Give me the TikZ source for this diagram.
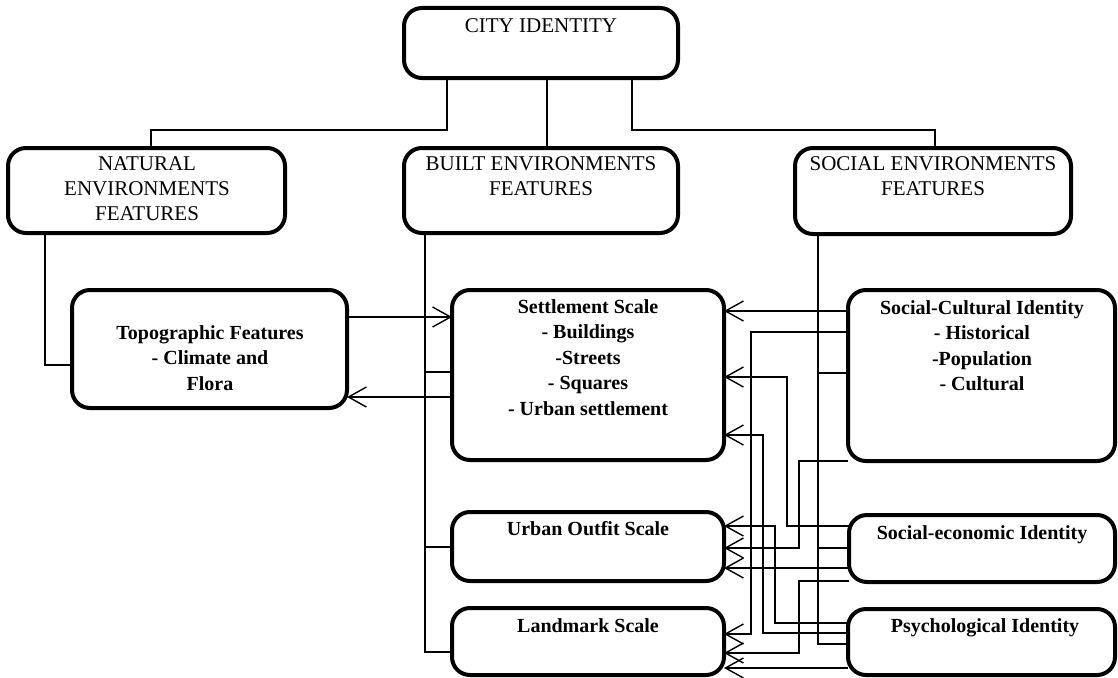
\documentclass[tikz,border=0pt]{standalone}
\usepackage{fontspec}
\setmainfont{Liberation Serif}
\usetikzlibrary{arrows.meta}
\begin{document}
\begin{tikzpicture}[x=1pt,y=-1pt,
  box/.style={draw, line width=4pt, rounded corners=18pt, inner sep=0pt, outer sep=0pt, anchor=north west},
  head/.style={font=\fontsize{21}{25}\selectfont, align=center, anchor=north, inner sep=0pt},
  sub/.style={font=\bfseries\fontsize{20}{25.5}\selectfont, align=center, anchor=north, inner sep=0pt},
  conn/.style={line width=1.4pt},
  arr/.style={conn, -{Straight Barb[length=18pt,width=20pt,line width=1.4pt]}}
]
\useasboundingbox (0,0) rectangle (1118,677);
\fill[white] (0,0) rectangle (1118,677);

% boxes
\node[box, minimum width=274pt, minimum height=70pt]  (city)     at (404,8)   {};
\node[box, minimum width=277pt, minimum height=85pt]  (natural)  at (8,148)   {};
\node[box, minimum width=274pt, minimum height=85pt]  (built)    at (404,148) {};
\node[box, minimum width=276pt, minimum height=86pt]  (social)   at (795,148) {};
\node[box, minimum width=275pt, minimum height=118pt] (topo)     at (72,290)  {};
\node[box, minimum width=272pt, minimum height=170pt] (settle)   at (452,290) {};
\node[box, minimum width=272pt, minimum height=69pt]  (urban)    at (452,512) {};
\node[box, minimum width=272pt, minimum height=67pt]  (landmark) at (452,608) {};
\node[box, minimum width=267pt, minimum height=171pt] (socul)    at (848,290) {};
\node[box, minimum width=266pt, minimum height=67pt]  (soceco)   at (849,515) {};
\node[box, minimum width=267pt, minimum height=66pt]  (psych)    at (848,609) {};

% texts
\node[head] (cityT)    at (541,18)  {CITY IDENTITY};
\node[head] (naturalT) at (147,156) {NATURAL\\ENVIRONMENTS\\FEATURES};
\node[head] (builtT)   at (541,156) {BUILT ENVIRONMENTS\\FEATURES};
\node[head] (socialT)  at (933,156) {SOCIAL ENVIRONMENTS\\FEATURES};
\node[sub]  (topoT)    at (210,325) {Topographic Features\\- Climate and\\Flora};
\node[sub]  (settleT)  at (588,299) {Settlement Scale\\- Buildings\\-Streets\\- Squares\\- Urban settlement};
\node[sub]  (urbanT)   at (588,521) {Urban Outfit Scale};
\node[sub]  (landT)    at (588,618) {Landmark Scale};
\node[sub]  (soculT)   at (982,300) {Social-Cultural Identity\\- Historical\\-Population\\- Cultural};
\node[sub]  (socecoT)  at (982,525) {Social-economic Identity};
\node[sub]  (psychT)   at (985,618) {Psychological Identity};

% junction coordinates
\coordinate (bj1) at (425,372);
\coordinate (bj2) at (425,547);
\coordinate (sj1) at (818,373);
\coordinate (sj2) at (818,548);

% top tree
\draw[conn] (city.south -| 447,0) |- (151,130) -- (natural.north -| 151,0);
\draw[conn] (city.south -| 547,0) -- (built.north -| 547,0);
\draw[conn] (city.south -| 632,0) |- (935,130) -- (social.north -| 935,0);

% natural
\draw[conn] (natural.south -| 45,0) |- (topo.west |- 0,365);
\draw[arr] (topo.east |- 0,317) -- (settle.west |- 0,317);
\draw[arr] (settle.west |- 0,397) -- (topo.east |- 0,397);

% built
\draw[conn] (built.south -| 425,0) |- (landmark.west |- 0,652);
\draw[conn] (bj1) -- (settle.west |- bj1);
\draw[conn] (bj2) -- (urban.west |- bj2);

% social
\draw[conn] (social.south -| 818,0) |- (psych.west |- 0,644);
\draw[conn] (sj1) -- (socul.west |- sj1);
\draw[conn] (sj2) -- (soceco.west |- sj2);

% identity arrows
\draw[arr] (socul.west |- 0,311) -- (settle.east |- 0,311);
\draw[arr] (socul.west |- 0,332) -| (751,634) -- (landmark.east |- 0,634);
\draw[arr] (socul.west |- 0,461) -| (799,548) -- (urban.east |- 0,548);
\draw[arr] (soceco.west |- 0,526) -| (787,377) -- (settle.east |- 0,377);
\draw[arr] (soceco.west |- 0,568) -- (urban.east |- 0,568);
\draw[arr] (soceco.west |- 0,581) -| (799,653) -- (landmark.east |- 0,653);
\draw[arr] (psych.west |- 0,623) -| (775,526) -- (urban.east |- 0,526);
\draw[arr] (psych.west |- 0,633) -| (763,435) -- (settle.east |- 0,435);
\draw[arr] (psych.west |- 0,668) -- (landmark.east |- 0,668);
\end{tikzpicture}
\end{document}
